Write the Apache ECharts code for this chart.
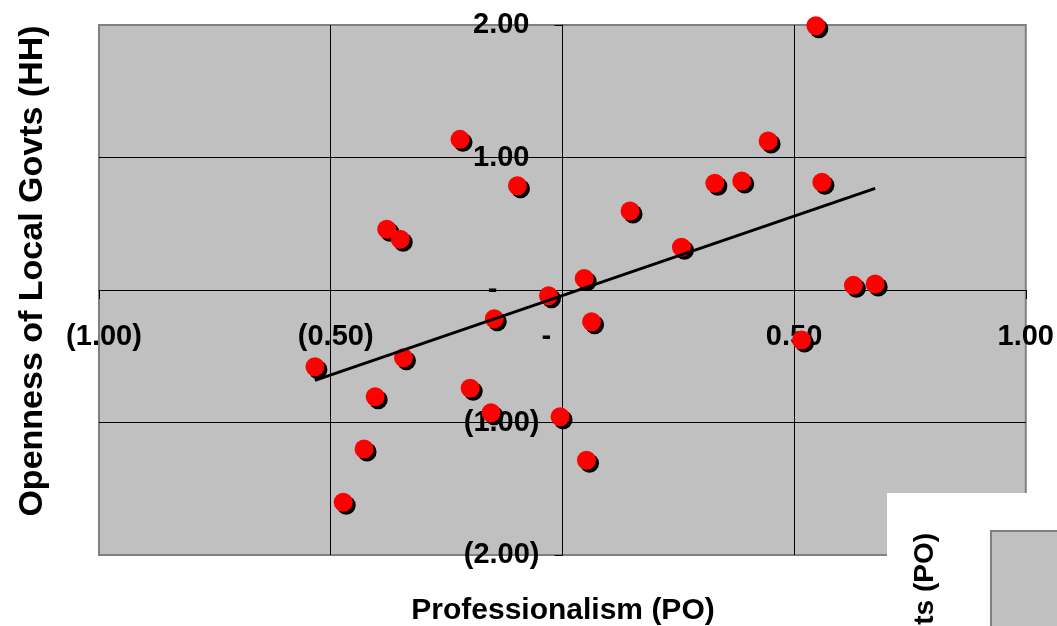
<!DOCTYPE html>
<html>
<head>
<meta charset="utf-8">
<style>
  html, body { margin: 0; padding: 0; background: #ffffff; }
  #chart { width: 1057px; height: 626px; }
</style>
<script src="https://cdn.jsdelivr.net/npm/echarts@6/dist/echarts.min.js"></script>
</head>
<body>
<div id="chart"></div>
<script>
// Professionalism (PO) values
const po = [-0.534, -0.473, -0.428, -0.404, -0.379, -0.350, -0.343, -0.221, -0.199, -0.154,
            -0.147, -0.097, -0.030, -0.005, 0.047, 0.052, 0.063, 0.146, 0.257, 0.329,
            0.387, 0.444, 0.516, 0.547, 0.560, 0.628, 0.675];
// Openness of Local Govts (HH) values
const hh = [-0.579, -1.602, -1.200, -0.805, 0.458, 0.383, -0.511, 1.137, -0.742, -0.926,
            -0.217, 0.787, -0.043, -0.956, 0.087, -1.285, -0.239, 0.596, 0.322, 0.805,
            0.823, 1.125, -0.377, 1.995, 0.813, 0.035, 0.045];
// axis ranges / tick steps
const xRange = [-1, 1], xStep = 0.5;
const yRange = [-2, 2], yStep = 1;

const points = po.map((x, i) => [x, hh[i]]);

// linear trendline (least squares) over the data range
const n = po.length;
const mx = po.reduce((a, b) => a + b, 0) / n;
const my = hh.reduce((a, b) => a + b, 0) / n;
let sxy = 0, sxx = 0;
for (let i = 0; i < n; i++) { sxy += (po[i] - mx) * (hh[i] - my); sxx += (po[i] - mx) ** 2; }
const slope = sxy / sxx;
const icpt = my - slope * mx;
const xMin = Math.min(...po), xMax = Math.max(...po);
const trend = [[xMin, icpt + slope * xMin], [xMax, icpt + slope * xMax]];

const FONT = '"Liberation Sans", Arial, sans-serif';

// plot area layout
const W = 1057, H = 626;
const G = { left: 99, right: 31, top: 25, bottom: 71 };
const gw = W - G.left - G.right, gh = H - G.top - G.bottom;
// offsets so the axes cross at zero (axes pass through the origin)
const xAxisOffset = -gh * (0 - yRange[0]) / (yRange[1] - yRange[0]);
const yAxisOffset = -gw * (0 - xRange[0]) / (xRange[1] - xRange[0]);

function fmt(v) {
  const s = Math.abs(v).toFixed(2);
  if (Math.abs(v) < 1e-9) return '{z|-}';
  if (v < 0) return '{n|(' + s + ')}';
  return '{p|' + s + '}';
}

const labelBase = { fontFamily: FONT, fontWeight: 'bold', fontSize: 29, color: '#000' };

const chart = echarts.init(document.getElementById('chart'), null, { renderer: 'canvas' });
chart.setOption({
  animation: false,
  backgroundColor: '#ffffff',
  grid: {
    left: G.left, right: G.right, top: G.top, bottom: G.bottom,
    show: true, backgroundColor: '#C0C0C0', borderColor: '#808080', borderWidth: 2
  },
  xAxis: {
    type: 'value', min: xRange[0], max: xRange[1], interval: xStep,
    position: 'bottom', offset: xAxisOffset,
    axisLine: { show: true, onZero: false, lineStyle: { color: '#000', width: 1 } },
    axisTick: { show: true, inside: false, length: 9, lineStyle: { color: '#000', width: 1 } },
    splitLine: { show: true, showMinLine: false, showMaxLine: false, lineStyle: { color: '#000', width: 1 } },
    axisLabel: {
      margin: 47, verticalAlign: 'middle', showMinLabel: true, showMaxLabel: true, hideOverlap: false,
      formatter: fmt,
      rich: {
        n: Object.assign({ padding: [0, 0, 0, 10] }, labelBase),
        p: Object.assign({}, labelBase),
        z: Object.assign({ padding: [0, 41, 0, 9] }, labelBase)
      }
    }
  },
  yAxis: {
    type: 'value', min: yRange[0], max: yRange[1], interval: yStep,
    position: 'left', offset: yAxisOffset,
    axisLine: { show: true, onZero: false, lineStyle: { color: '#000', width: 1 } },
    axisTick: { show: true, inside: false, length: 8, lineStyle: { color: '#000', width: 1 } },
    splitLine: { show: true, showMinLine: false, showMaxLine: false, lineStyle: { color: '#000', width: 1 } },
    axisLabel: {
      margin: 23, align: 'right', verticalAlign: 'middle', showMinLabel: true, showMaxLabel: true, hideOverlap: false,
      formatter: fmt,
      rich: {
        n: Object.assign({}, labelBase),
        p: Object.assign({ padding: [0, 10, 0, 0] }, labelBase),
        z: Object.assign({ padding: [0, 42, 0, 0] }, labelBase)
      }
    }
  },
  series: [
    {
      type: 'scatter', data: points, symbol: 'circle', symbolSize: 19, clip: false, z: 3,
      itemStyle: { color: '#FF0000', shadowColor: '#000000', shadowBlur: 0, shadowOffsetX: 3, shadowOffsetY: 3, opacity: 1 }
    },
    {
      type: 'line', data: trend, symbol: 'none', z: 4, clip: false,
      lineStyle: { color: '#000', width: 3 }
    }
  ],
  graphic: [
    {
      type: 'text', x: 563, y: 611, z: 10,
      style: { text: 'Professionalism (PO)', fontFamily: FONT, fontWeight: 'bold', fontSize: 30,
               fill: '#000', textAlign: 'center', textVerticalAlign: 'middle' }
    },
    {
      type: 'text', x: 33, y: 271, rotation: Math.PI / 2, z: 10,
      style: { text: 'Openness of Local Govts (HH)', fontFamily: FONT, fontWeight: 'bold', fontSize: 34,
               fill: '#000', textAlign: 'center', textVerticalAlign: 'middle' }
    },
    {
      type: 'rect', z: 20,
      shape: { x: 887, y: 493, width: 170, height: 133 },
      style: { fill: '#ffffff' }
    },
    {
      type: 'rect', z: 21,
      shape: { x: 991, y: 531, width: 80, height: 110 },
      style: { fill: '#C0C0C0', stroke: '#808080', lineWidth: 2 }
    },
    {
      type: 'text', x: 925, y: 533, rotation: Math.PI / 2, z: 22,
      style: { text: 'ts (PO)', fontFamily: FONT, fontWeight: 'bold', fontSize: 28,
               fill: '#000', textAlign: 'right', textVerticalAlign: 'middle' }
    }
  ]
});
</script>
</body>
</html>
